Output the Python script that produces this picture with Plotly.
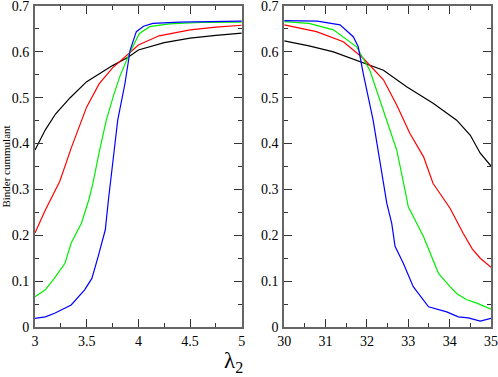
import plotly.graph_objects as go
from plotly.subplots import make_subplots

# left panel: lambda_2 in [3, 5]
x_black_l = [3.0, 3.1, 3.2, 3.34, 3.5, 3.75, 3.9, 4.0, 4.25, 4.5, 4.75, 5.0]
y_black_l = [0.386, 0.43, 0.465, 0.50, 0.535, 0.57, 0.588, 0.604, 0.62, 0.63, 0.636, 0.641]

x_red_l = [3.0, 3.1, 3.24, 3.35, 3.5, 3.62, 3.75, 3.85, 3.9, 4.0, 4.2, 4.5, 4.75, 5.0]
y_red_l = [0.205, 0.255, 0.318, 0.39, 0.48, 0.53, 0.565, 0.585, 0.595, 0.615, 0.635, 0.648, 0.654, 0.658]

x_green_l = [3.0, 3.1, 3.19, 3.29, 3.35, 3.45, 3.52, 3.56, 3.62, 3.69, 3.76, 3.82, 3.92, 4.01, 4.11, 4.3, 4.6, 5.0]
y_green_l = [0.066, 0.081, 0.107, 0.139, 0.183, 0.227, 0.277, 0.313, 0.38, 0.451, 0.505, 0.546, 0.60, 0.64, 0.655, 0.661, 0.664, 0.665]

x_blue_l = [3.0, 3.1, 3.19, 3.35, 3.48, 3.55, 3.61, 3.68, 3.71, 3.73, 3.77, 3.80, 3.87, 3.92, 3.98, 4.05, 4.14, 4.4, 5.0]
y_blue_l = [0.019, 0.022, 0.03, 0.048, 0.081, 0.106, 0.153, 0.212, 0.277, 0.32, 0.393, 0.451, 0.531, 0.604, 0.644, 0.656, 0.662, 0.665, 0.667]

# right panel: lambda_2 in [30, 35]
x_black_r = [30.0, 30.6, 31.19, 31.83, 32.4, 32.96, 33.6, 34.17, 34.5, 34.74, 35.0]
y_black_r = [0.624, 0.613, 0.600, 0.578, 0.560, 0.524, 0.488, 0.451, 0.418, 0.379, 0.351]

x_red_r = [30.0, 30.78, 31.43, 31.91, 32.4, 32.72, 33.04, 33.37, 33.6, 34.01, 34.33, 34.55, 34.74, 35.0]
y_red_r = [0.659, 0.644, 0.622, 0.586, 0.539, 0.484, 0.422, 0.371, 0.313, 0.259, 0.204, 0.17, 0.150, 0.130]

x_green_r = [30.0, 30.6, 31.19, 31.75, 32.07, 32.4, 32.72, 32.92, 33.0, 33.37, 33.73, 34.01, 34.17, 34.4, 34.66, 35.0]
y_green_r = [0.666, 0.662, 0.648, 0.611, 0.560, 0.473, 0.386, 0.299, 0.262, 0.197, 0.117, 0.088, 0.073, 0.06, 0.052, 0.039]

x_blue_r = [30.0, 30.8, 31.35, 31.67, 31.79, 31.91, 32.15, 32.4, 32.48, 32.6, 32.68, 32.88, 33.12, 33.49, 33.93, 34.21, 34.45, 34.74, 35.0]
y_blue_r = [0.668, 0.667, 0.659, 0.633, 0.611, 0.553, 0.451, 0.32, 0.27, 0.226, 0.176, 0.139, 0.088, 0.044, 0.033, 0.022, 0.02, 0.013, 0.019]

COLORS = ["black", "red", "#00ee00", "blue"]
left = [(x_black_l, y_black_l), (x_red_l, y_red_l), (x_green_l, y_green_l), (x_blue_l, y_blue_l)]
right = [(x_black_r, y_black_r), (x_red_r, y_red_r), (x_green_r, y_green_r), (x_blue_r, y_blue_r)]

fig = make_subplots(rows=1, cols=2, horizontal_spacing=0.093)

for (xs, ys), c in zip(left, COLORS):
    fig.add_trace(go.Scatter(x=xs, y=ys, mode="lines", line=dict(color=c, width=1.2)), row=1, col=1)
for (xs, ys), c in zip(right, COLORS):
    fig.add_trace(go.Scatter(x=xs, y=ys, mode="lines", line=dict(color=c, width=1.2)), row=1, col=2)

SERIF = "Times New Roman, Liberation Serif, serif"
font = dict(family=SERIF, size=14, color="black")
axis_common = dict(
    showgrid=False, zeroline=False, showline=True, linecolor="#666666", linewidth=2,
    mirror="ticks", ticks="inside", ticklen=8, tickwidth=1.3, tickcolor="#333333",
    tickfont=font, automargin=False, ticklabeloverflow="allow",
)
minor = dict(ticks="inside", ticklen=4, tickwidth=1.3, tickcolor="#333333", showgrid=False)

fig.update_xaxes(range=[3, 5], dtick=0.5, minor=dict(dtick=0.25, **minor), row=1, col=1, **axis_common)
fig.update_xaxes(range=[30, 35], dtick=1, minor=dict(dtick=0.5, **minor), row=1, col=2, **axis_common)
fig.update_yaxes(range=[0, 0.7], dtick=0.1, tickformat="~g", minor=dict(dtick=0.05, **minor), **axis_common)
fig.update_yaxes(title=dict(text="Binder cummulant", font=dict(family=SERIF, size=11, color="black"), standoff=0),
                 ticklabelstandoff=1, row=1, col=1)
fig.update_yaxes(ticklabelstandoff=1, row=1, col=2)

fig.add_annotation(
    text="λ<sub>2</sub>", xref="paper", yref="paper", x=0.435, y=-0.06, yanchor="top",
    showarrow=False, font=dict(family=SERIF, size=23, color="black"),
)

fig.update_layout(
    width=498, height=377, showlegend=False,
    margin=dict(l=35, r=7, t=6, b=50),
    paper_bgcolor="white", plot_bgcolor="white",
    font=dict(family=SERIF, color="black"),
)

fig.write_html("out.html", config={"displayModeBar": False},
               post_script="document.body.style.margin='0';")
